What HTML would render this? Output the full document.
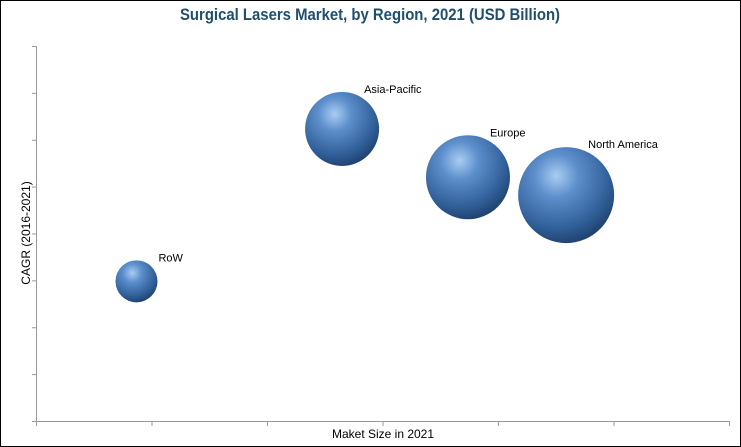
<!DOCTYPE html>
<html><head><meta charset="utf-8"><style>
body{margin:0;background:#fff}
svg{display:block;font-family:"Liberation Sans",sans-serif}
</style></head><body>
<svg width="741" height="447">
<defs>
<radialGradient id="g" cx="0.4" cy="0.3" r="0.75">
<stop offset="0" stop-color="#a9cdf2"/>
<stop offset="0.3" stop-color="#5d8fcc"/>
<stop offset="0.75" stop-color="#2f5d96"/>
<stop offset="1" stop-color="#1d3c66"/>
</radialGradient>
</defs>
<rect x="0.5" y="0.5" width="740" height="446" fill="#fff" stroke="#000"/>
<text x="370" y="20" text-anchor="middle" font-size="17" font-weight="bold" fill="#1f4e6e" textLength="380" lengthAdjust="spacingAndGlyphs">Surgical Lasers Market, by Region, 2021 (USD Billion)</text>
<g id="axes" stroke="#999" stroke-width="1"></g>
<text x="383" y="438" text-anchor="middle" font-size="12" fill="#000">Maket Size in 2021</text>
<text transform="translate(30,233) rotate(-90)" text-anchor="middle" font-size="12" fill="#000">CAGR (2016-2021)</text>
<g id="bubbles"></g>
</svg>
<script>
const categories=["RoW","Asia-Pacific","Europe","North America"];
const xValues=[0.87,2.65,3.74,4.59];
const yValues=[2.98,6.23,5.2,4.82];
const sizes=[21,37,42,48];
const xTicks=[0,1,2,3,4,5,6];
const yTicks=[0,1,2,3,4,5,6,7,8];
const X0=36,X1=729,Y0=421,Y1=46;
const sx=v=>X0+(X1-X0)*v/6, sy=v=>Y0-(Y0-Y1)*v/8;
const NS="http://www.w3.org/2000/svg";
const axes=document.getElementById('axes');
function line(x1,y1,x2,y2,n){const l=document.createElementNS(NS,'line');l.setAttribute('x1',x1);l.setAttribute('y1',y1);l.setAttribute('x2',x2);l.setAttribute('y2',y2);


axes.appendChild(l);}
line(X0+0.5,Y1,X0+0.5,Y0+0.5,'y-axis');
line(X0-2,Y0+0.5,X1+1,Y0+0.5,'x-axis');
xTicks.forEach(t=>line(sx(t)+0.5,Y0,sx(t)+0.5,Y0+5,'x-tick'));
yTicks.forEach(t=>line(X0-4,sy(t)+0.5,X0,sy(t)+0.5,'y-tick'));
const g=document.getElementById('bubbles');
categories.forEach((c,i)=>{
const cx=sx(xValues[i]),cy=sy(yValues[i]),r=sizes[i];
const el=document.createElementNS(NS,'circle');
el.setAttribute('cx',cx);el.setAttribute('cy',cy);el.setAttribute('r',r);el.setAttribute('fill','url(#g)');


g.appendChild(el);
const t=document.createElementNS(NS,'text');
t.setAttribute('x',cx+22);t.setAttribute('y',cy-r+1);t.setAttribute('font-size','11');t.textContent=c;


g.appendChild(t);
});
</script>
</body></html>
